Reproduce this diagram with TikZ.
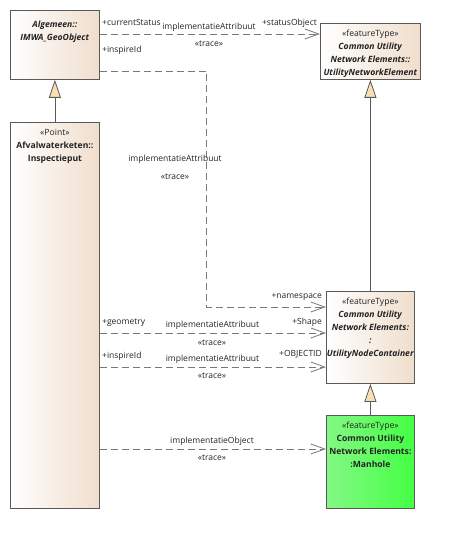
\documentclass[tikz,border=0pt]{standalone}
\usepackage{fontspec}
\setmainfont{Open Sans}
\usetikzlibrary{arrows.meta}
\definecolor{tanc}{RGB}{240,222,204}
\definecolor{greenl}{RGB}{132,248,132}
\definecolor{greenr}{RGB}{68,255,68}
\definecolor{linec}{RGB}{90,90,90}
\definecolor{dashc}{RGB}{120,120,120}
\definecolor{txt}{RGB}{35,35,35}
\definecolor{trif}{RGB}{250,222,182}
\tikzset{
  box/.style={draw=linec, line width=0.8pt, left color=white, right color=tanc, inner sep=0pt, anchor=north west},
  greenbox/.style={draw=linec, line width=0.8pt, left color=greenl, right color=greenr, inner sep=0pt, anchor=north west},
  btext/.style={anchor=north, align=center, inner sep=0pt, text=txt, font=\fontsize{8.6}{13}\selectfont},
  lab/.style={inner sep=0pt, text=txt, font=\fontsize{8.5}{10}\selectfont},
  dep/.style={draw=dashc, line width=0.8pt, dash pattern=on 7pt off 4pt, -{Straight Barb[length=14pt,width=10pt,line width=0.8pt]}},
  gen/.style={draw=linec, line width=0.8pt, -{Triangle[open, fill=trif, length=18pt, width=12pt, line width=0.8pt]}}
}
\begin{document}
\begin{tikzpicture}[x=1pt,y=-1pt]
\useasboundingbox (0,0) rectangle (448,556);
% boxes
\node[box, minimum width=89pt, minimum height=69pt] (geo) at (10,10) {};
\node[box, minimum width=100pt, minimum height=56pt] (une) at (320,23) {};
\node[box, minimum width=89pt, minimum height=386pt] (insp) at (10,122) {};
\node[box, minimum width=88pt, minimum height=92pt] (unc) at (326,291) {};
\node[greenbox, minimum width=88pt, minimum height=93pt] (man) at (326,415) {};
% box texts
\node[btext] (geot) at ([yshift=-11pt]geo.north) {\textbf{\textit{Algemeen::}}\\\textbf{\textit{IMWA\_GeoObject}}};
\node[btext] (unet) at ([yshift=-7pt]une.north) {«featureType»\\\textbf{\textit{Common Utility}}\\\textbf{\textit{Network Elements::}}\\\textbf{\textit{UtilityNetworkElement}}};
\node[btext] (inspt) at ([yshift=-7pt]insp.north) {«Point»\\\textbf{Afvalwaterketen::}\\\textbf{Inspectieput}};
\node[btext] (unct) at ([yshift=-7pt]unc.north) {«featureType»\\\textbf{\textit{Common Utility}}\\\textbf{\textit{Network Elements:}}\\\textbf{\textit{:}}\\\textbf{\textit{UtilityNodeContainer}}};
\node[btext] (mant) at ([yshift=-7pt]man.north) {«featureType»\\\textbf{Common Utility}\\\textbf{Network Elements:}\\\textbf{:Manhole}};
% generalizations
\draw[gen] (insp.north) -- (geo.south);
\draw[gen] (unc.north) -- (une.south);
\draw[gen] (man.north) -- (unc.south);
% dependencies
\draw[dep] ([yshift=-24pt]geo.north east) -- ([yshift=-11pt]une.north west);
\draw[dep] ([yshift=-61pt]geo.north east) -- ++(107,0) |- ([yshift=-16pt]unc.north west);
\draw[dep] ([yshift=-211pt]insp.north east) -- ([yshift=-42pt]unc.north west);
\draw[dep] ([yshift=-245pt]insp.north east) -- ([yshift=-76pt]unc.north west);
\draw[dep] ([yshift=-327pt]insp.north east) -- ([yshift=-34pt]man.north west);
% labels
\node[lab, anchor=mid west] (l1a) at (102,23) {+currentStatus};
\node[lab, anchor=mid] (l1b) at (209,27) {implementatieAttribuut};
\node[lab, anchor=mid east] (l1c) at (317,23) {+statusObject};
\node[lab, anchor=mid] (l1d) at (209,44) {«trace»};
\node[lab, anchor=mid west] (l2a) at (102,50) {+inspireId};
\node[lab, anchor=mid] (l2b) at (175,159) {implementatieAttribuut};
\node[lab, anchor=mid] (l2c) at (175,177) {«trace»};
\node[lab, anchor=mid east] (l2d) at (322,296) {+namespace};
\node[lab, anchor=mid west] (l3a) at (102,322) {+geometry};
\node[lab, anchor=mid] (l3b) at (212.5,325) {implementatieAttribuut};
\node[lab, anchor=mid east] (l3c) at (322,322) {+Shape};
\node[lab, anchor=mid] (l3d) at (212,343) {«trace»};
\node[lab, anchor=mid west] (l4a) at (102,356) {+inspireId};
\node[lab, anchor=mid] (l4b) at (212.5,359) {implementatieAttribuut};
\node[lab, anchor=mid east] (l4c) at (322,354) {+OBJECTID};
\node[lab, anchor=mid] (l4d) at (212,376) {«trace»};
\node[lab, anchor=mid] (l5a) at (212,441) {implementatieObject};
\node[lab, anchor=mid] (l5b) at (212,458) {«trace»};
\end{tikzpicture}
\end{document}
